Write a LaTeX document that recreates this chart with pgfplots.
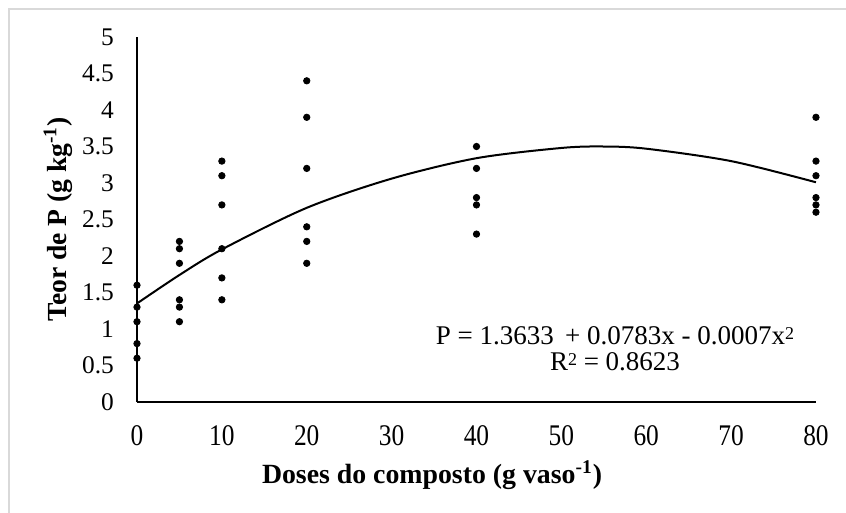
\documentclass[border=0pt]{standalone}
\usepackage{pgfplots}
\pgfplotsset{compat=1.18}
\usepackage{fontspec}
\setmainfont{Liberation Serif}
\newcommand\sq{\raisebox{0.45ex}{\fontsize{9}{9}\selectfont 2}}

\begin{document}
\begin{tikzpicture}[x=0.5pt,y=-0.5pt]
  % page = 846 x 513 px, 1 px = 0.5pt, origin top left
  \path[use as bounding box] (0,0) rectangle (846,513);
  \clip (0,0) rectangle (846,513);
  \draw[gray!30, line width=1pt] (9,520) -- (9,9) -- (860,9);

  \begin{axis}[
      at={(68.5pt,-201pt)}, anchor=south west,
      scale only axis, width=339.5pt, height=182.5pt,
      xmin=0, xmax=80, ymin=0, ymax=5,
      axis lines=left,
      axis line style={-, line width=1pt, black},
      xtick={0,10,...,80},
      ytick={0,0.5,1,1.5,2,2.5,3,3.5,4,4.5,5},
      major tick length=0pt,
      clip=false,
      /pgf/number format/assume math mode=true,
      tick label style={font=\fontsize{12.7}{14}\selectfont},
      yticklabel style={xshift=-8pt},
      xticklabel style={yshift=-8pt},
      xticklabel={\scalebox{1}[1.18]{\pgfmathprintnumber{\tick}}},
      xlabel={\textbf{Doses do composto (g vaso\textsuperscript{-1})}},
      ylabel={\textbf{Teor de P (g kg\textsuperscript{-1})}},
      xlabel style={font=\fontsize{13.9}{15}\selectfont,
        at={(axis description cs:0.4345,-0.2)}, anchor=center},
      ylabel style={font=\fontsize{13.8}{15}\selectfont,
        at={(axis description cs:-0.116,0.5)}, anchor=center},
    ]
    % observed values
    \addplot[only marks, mark=*, mark size=1.6pt, black] coordinates {
      (0,1.6)(0,1.3)(0,1.1)(0,0.8)(0,0.6)
      (5,2.2)(5,2.1)(5,1.9)(5,1.4)(5,1.3)(5,1.1)
      (10,3.3)(10,3.1)(10,2.7)(10,2.1)(10,1.7)(10,1.4)
      (20,4.4)(20,3.9)(20,3.2)(20,2.4)(20,2.2)(20,1.9)
      (40,3.5)(40,3.2)(40,2.8)(40,2.7)(40,2.3)
      (80,3.9)(80,3.3)(80,3.1)(80,2.8)(80,2.7)(80,2.6)
    };
    % trend line
    \addplot[smooth, black, line width=1pt] coordinates {
      (0,1.35)(5,1.74)(10,2.09)(20,2.66)(30,3.06)(40,3.34)
      (50,3.48)(55,3.50)(60,3.47)(70,3.30)(80,3.01)
    };
  \end{axis}

  \node[font=\fontsize{13.5}{13}\selectfont, align=center, inner sep=0pt]
    at (615,349)
    {P = 1.3633 \,+ 0.0783x - 0.0007x\sq\\R\sq\ = 0.8623};
\end{tikzpicture}
\end{document}
